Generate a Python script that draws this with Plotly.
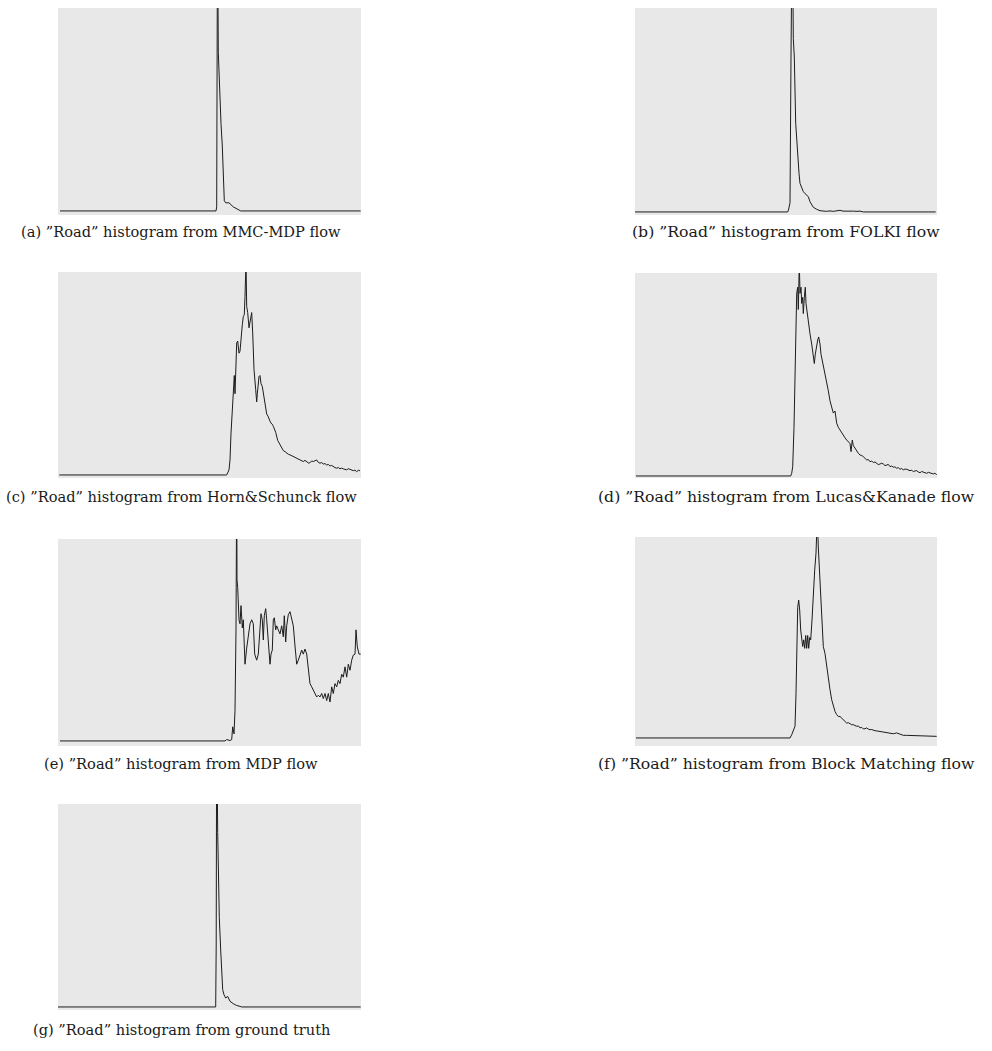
import plotly.graph_objects as go

# ---- "Road" histograms of flow magnitude, one series per method ----
# x: bin position, y: relative bin count (100 = top of the panel)

mmc_x = [2, 158, 158.7, 159.5, 160.3, 161, 162, 163, 164.3, 165.3, 166.3, 167.7, 171, 175.3, 180.3, 182.7, 302.7]
mmc_y = [0, 0, 2, 145, 78, 68, 61, 43, 32, 19, 5, 4, 4, 2, 0.5, 0, 0]

folki_x = [0, 152.7, 153.5, 154.3, 155, 156, 157.3, 158.3, 159.3, 160.7, 161.7, 162.7, 164, 165, 166.7,
           168.3, 170, 171.7, 173.3, 175, 176.7, 178.3, 181.7, 185, 191.7, 195, 198.3, 201, 205, 208,
           211.7, 215, 218.3, 222, 225, 228.3, 300.7]
folki_y = [0, 0, 1, 3, 4.5, 76, 150, 85, 76, 43.5, 35, 25.5, 19, 14, 11.6,
           10, 9, 8, 7.5, 5, 3.4, 2.3, 1.3, 0.6, 0.3, 0.5, 0.3, 0.6, 0.8, 0.4,
           0.5, 0.3, 0.4, 0.3, 0.4, 0, 0]

horn_x = [1.3, 168.7, 171, 172, 173, 174.3, 175.3, 176.3, 177, 177.7, 178.7, 179.7, 181, 182, 183,
          184.3, 185.3, 186.3, 187, 188, 188.7, 189.7, 191, 192, 193.7, 194.7, 196, 197.7, 198.7,
          199.3, 201, 202, 203, 204.3, 206.3, 207.5, 208.7, 210, 211, 212, 213, 214.3, 215.3, 216.5,
          217.7, 219.7, 222, 223.5, 225.3, 227, 228.7, 230.3, 232, 233.7, 235.3, 237, 238.7, 240.3,
          242, 243.7, 245.3, 247, 248.7, 250.3, 252, 253.7, 255.3, 257, 258.7, 260.3, 262, 263.7,
          265.3, 267, 268.7, 270.3, 272, 273.7, 275.3, 277, 278.7, 280.3, 282, 283.7, 285.3, 287,
          288.7, 290.3, 292, 293.7, 295.3, 297, 298.7, 300.3, 302]
horn_y = [0, 0, 2.5, 7.4, 20.6, 35, 45, 49, 40, 57, 65, 66, 60, 61, 68,
          74, 78, 79, 88, 105, 83, 80, 72.5, 75, 80, 70, 52, 42, 36,
          40, 48.5, 49, 45, 43.6, 37, 33, 30, 29, 27, 26.5, 25.5, 25, 24, 22.5,
          21, 17, 15, 13.5, 12, 11.5, 10.7, 10.2, 9.9, 9.5, 9, 8.4, 8.2, 7.6,
          7.4, 6.8, 6.6, 7.2, 6.6, 5.9, 6, 6.9, 6.6, 7.1, 7.4, 6.2, 5.8, 6.1,
          5.4, 5.6, 4.9, 5.2, 4.4, 4.7, 4.1, 3.6, 3.3, 3.7, 3, 3.4, 3, 2.7,
          2.5, 3.1, 2.8, 2.2, 2.1, 2.4, 1.6, 2.3, 2.1]

lucas_x = [1, 155.7, 156.7, 157.7, 159, 160, 161, 161.7, 162.7, 163.3, 164.3, 165, 166, 166.7, 167.7,
           168.3, 169.3, 170.3, 171, 172.3, 173.7, 175, 176.7, 178.3, 179.3, 180.3, 181.7, 182.7,
           183.7, 185, 186, 187.3, 189, 191, 193.3, 195, 196.7, 198.3, 200, 201.7, 203.3, 205,
           206.7, 208.3, 210, 211.7, 213.3, 215, 216, 217.3, 218.3, 220, 221.7, 223.3, 225, 226.7,
           228.3, 230, 231.7, 233.3, 235, 236.7, 238.3, 240, 241.7, 243.3, 245, 246.7, 248.3, 250,
           251.7, 253.3, 255, 256.7, 258.3, 260, 261.7, 263.3, 265, 266.7, 268.3, 270, 271.7, 273.3,
           275, 276.7, 278.3, 280, 281.7, 283.3, 285, 286.7, 288.3, 290, 291.7, 293.3, 295, 296.7,
           298.3, 300, 301.7]
lucas_y = [0, 0, 1.3, 4.6, 24, 57, 73, 90, 93, 82, 105, 90, 93, 85, 88,
           80, 88, 93, 85, 80, 73, 70, 65, 59, 55.4, 60, 65, 67,
           68.5, 65, 60, 57, 52, 47, 42, 37, 34, 31, 32, 26, 24, 22.6,
           21, 19.5, 18.8, 17.7, 16.8, 16, 12, 17.7, 15, 13.6, 12.8, 11.2, 10.3, 10.1,
           9.5, 8.6, 7.9, 8.1, 7, 7.4, 6.6, 6.9, 6.2, 5.6, 5.9, 6.3, 5.9, 5.1,
           5.4, 5.7, 4.6, 4.9, 4.3, 4.5, 3.8, 4.1, 3.3, 3.7, 3, 3.4, 3.3, 2.8,
           2.6, 2.9, 2.1, 2.5, 2.6, 2, 1.6, 2.2, 2, 1.5, 1.3, 1.8, 1.6, 1.2,
           1, 1.4, 0.5]

mdp_x = [2, 167, 168.7, 170.3, 172, 173.7, 174.7, 176, 177, 178, 178.7, 179, 179.7, 181, 182, 183,
         184.3, 185.3, 186, 187, 188.7, 190.3, 192, 193.7, 195.3, 196.7, 198.7, 200.3, 202, 203,
         204.3, 205.3, 206.3, 207.7, 208.7, 210.3, 212, 213, 214.3, 215.3, 216.3, 217.7, 218.7,
         220.3, 222, 223.7, 225.3, 226.3, 227.7, 228.7, 230.3, 232, 233.7, 235.3, 237, 238.7,
         240.3, 242, 243.7, 245.3, 247, 248.7, 250.3, 252, 253.7, 255.3, 257, 258.7, 260.3, 262,
         263.7, 265.3, 267, 268.7, 270.3, 272, 273.7, 275.3, 277, 278.7, 280.3, 282, 283.7, 285.3,
         287, 288.7, 290.3, 292, 293.7, 295.3, 297, 298, 299.3, 301, 302.7]
mdp_y = [0, 0, 0.7, 0.3, 0.2, 0.7, 7, 3.5, 15, 55, 130, 80, 76, 60, 58, 67,
         56, 60, 47, 38, 46, 52, 58, 60, 58, 43, 40, 43, 56, 63,
         60, 50, 62, 65.5, 60, 47, 38, 43, 45, 60, 61, 55, 57,
         55, 53, 57, 51.6, 62, 49, 57, 62.5, 64, 60, 57, 47, 38,
         40, 43, 45, 43, 45.5, 43, 36.7, 28.4, 26.8, 25, 23.5, 21.8, 22.6, 21.8,
         23.5, 21, 23.5, 20, 23.5, 19.3, 26.8, 23.5, 28.4, 26.8, 30, 28.4, 33, 31.6,
         36.7, 31.6, 38, 35, 40, 42.5, 43, 55, 46.6, 43, 43]

block_x = [1, 155, 156.7, 158.3, 160, 161, 161.7, 162.7, 163.7, 164.7, 165.7, 166.7, 167.7, 168.7,
           169.7, 170.7, 171.7, 172.7, 173.7, 174.7, 175.7, 177, 178.3, 179.7, 181, 182.3, 183.3,
           184.3, 185.3, 186.7, 188.3, 190, 191.7, 193.3, 195, 196.7, 198.3, 200, 201.7, 203.3, 205,
           206.7, 208.3, 210, 211.7, 213.3, 215, 216.7, 218.3, 220, 221.7, 223.3, 225, 226.7, 228.3,
           230, 231.7, 233.3, 235, 236.7, 238.3, 240, 241.7, 243.3, 245, 246.7, 248.3, 250, 251.7,
           255, 258.3, 261.7, 265, 268.3, 271.7, 278.3, 285, 291.7, 298.3, 301.7]
block_y = [0, 0, 1.6, 3.3, 5.8, 22, 50, 65, 68.6, 63.6, 53.7, 48.8, 45.5, 48.8,
           44.6, 51, 44.6, 51, 44.6, 50, 48.8, 58.7, 75, 83.5, 92, 110, 95,
           83.5, 72, 58.7, 45.5, 42, 35.5, 29, 24, 19, 15.7, 13.2, 11.6, 10.7, 10.7,
           9.9, 9.1, 8.2, 7.4, 7.6, 7, 6.6, 6.6, 6.1, 5.8, 6, 5, 5.3, 4.5,
           4.6, 5, 4.4, 4.1, 4.2, 3.8, 3.6, 3.5, 3.4, 3.1, 3, 2.8, 2.9, 2.8,
           2.5, 2.1, 2.5, 1.7, 1.3, 1.3, 1.2, 1, 0.8, 0.8, 0.8]

truth_x = [0, 157.7, 158.2, 158.7, 159.7, 160.3, 161.3, 162.7, 163.7, 164.7, 166, 167.7, 169.7, 172,
           175.3, 178.7, 182, 183.7, 302.7]
truth_y = [0, 0, 30, 145, 86, 68, 44, 28, 17.5, 8.5, 6, 4.4, 5.2, 2.8,
           1.6, 0.7, 0.3, 0, 0]

captions = [
    "(a) \u201dRoad\u201d histogram from MMC-MDP flow",
    "(b) \u201dRoad\u201d histogram from FOLKI flow",
    "(c) \u201dRoad\u201d histogram from Horn&amp;Schunck flow",
    "(d) \u201dRoad\u201d histogram from Lucas&amp;Kanade flow",
    "(e) \u201dRoad\u201d histogram from MDP flow",
    "(f) \u201dRoad\u201d histogram from Block Matching flow",
    "(g) \u201dRoad\u201d histogram from ground truth",
]

series = [(mmc_x, mmc_y), (folki_x, folki_y), (horn_x, horn_y), (lucas_x, lucas_y),
          (mdp_x, mdp_y), (block_x, block_y), (truth_x, truth_y)]

# panel boxes in page pixels: left, right, top, bottom, baseline offset (y units below 0)
W, H = 992, 1051
boxes = [
    (58, 361, 8, 215, -2.0),
    (635, 937, 8, 215, -1.5),
    (58, 361, 272, 478, -1.5),
    (635, 937, 273, 478, -1.0),
    (58, 361, 539, 746, -2.5),
    (635, 937, 537, 746, -4.0),
    (58, 361, 804, 1010, -1.5),
]
# caption centre (x, y) and font size for each panel
caption_pos = [(181, 232, 14.6), (786, 232, 15.7), (181, 496, 14.6), (786, 496, 15.7),
               (181, 763, 14.6), (786, 763, 15.7), (181, 1029, 14.6)]

fig = go.Figure()
layout = {}
for i, ((xs, ys), (l, r, t, b, y0)) in enumerate(zip(series, boxes)):
    k = "" if i == 0 else str(i + 1)
    fig.add_trace(go.Scatter(
        x=xs, y=ys, mode="lines", xaxis="x" + k, yaxis="y" + k,
        line=dict(color="#1c1c1c", width=1), showlegend=False, hoverinfo="skip",
    ))
    layout["xaxis" + k] = dict(domain=[l / W, r / W], range=[0, r - l], visible=False,
                               anchor="y" + k, fixedrange=True)
    layout["yaxis" + k] = dict(domain=[1 - b / H, 1 - t / H], range=[y0, 100], visible=False,
                               anchor="x" + k, fixedrange=True)

shapes = []
for i, (l, r, t, b, y0) in enumerate(boxes):
    shapes.append(dict(type="rect", xref="paper", yref="paper", layer="below",
                       x0=l / W, x1=r / W, y0=1 - b / H, y1=1 - t / H,
                       fillcolor="#e8e8e8", line=dict(width=0)))

annotations = []
for text, (cx, cy, fs) in zip(captions, caption_pos):
    annotations.append(dict(text=text, xref="paper", yref="paper", x=cx / W, y=1 - cy / H,
                            xanchor="center", yanchor="middle", showarrow=False,
                            font=dict(family="DejaVu Serif", size=fs, color="#1a1a1a")))

fig.update_layout(
    width=W, height=H, margin=dict(l=0, r=0, t=0, b=0),
    paper_bgcolor="white", plot_bgcolor="rgba(0,0,0,0)",
    shapes=shapes, annotations=annotations, **layout,
)

fig.write_html("out.html")
